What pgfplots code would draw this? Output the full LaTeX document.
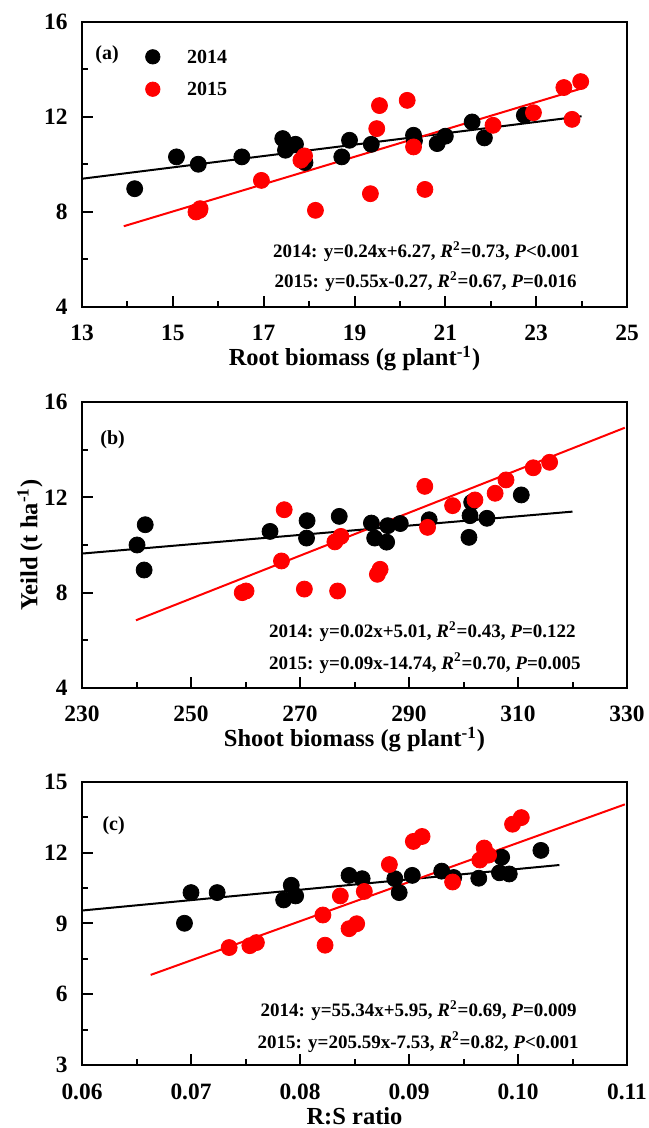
\documentclass[border=0pt]{standalone}
\usepackage{fontspec}
\setmainfont{Liberation Serif}
\usepackage{pgfplots}
\pgfplotsset{compat=1.18}
\definecolor{myred}{RGB}{255,0,0}
\newcommand{\tickfont}{\fontsize{11.7}{13}\selectfont\bfseries}
\newcommand{\labfont}{\fontsize{12.25}{14}\selectfont\bfseries}
\newcommand{\annfont}{\fontsize{10}{12}\selectfont\bfseries}
\newcommand{\eqfont}{\fontsize{9.5}{12}\selectfont\bfseries}
\tikzset{ann/.style={anchor=base east, inner sep=0pt, font=\eqfont}}
\pgfplotsset{
  panel/.style={
    scale only axis, width=272.5pt,
    axis line style={line width=1pt},
    tick align=inside, tick pos=left,
    major tick length=5.5pt, minor tick length=3pt,
    tick style={black, line width=1pt},
    minor tick num=1,
    clip=false,
    /pgf/number format/assume math mode=true,
    ticklabel style={font=\tickfont},
    xticklabel style={anchor=base, inner sep=0pt, yshift=-17pt},
    yticklabel style={anchor=east, inner sep=0pt, xshift=-7pt},
    every axis x label/.style={at={(axis description cs:0.5,0)}, anchor=base, yshift=-29.5pt, font=\labfont},
    every axis y label/.style={at={(axis description cs:-0.0954,0.5)}, rotate=90, anchor=center, font=\labfont},
  },
  pts/.style={only marks, mark=*, mark size=4pt, legend image code/.code={\draw[mark size=3.6pt,##1] plot coordinates {(0pt,0pt)};}},
}
\pgfplotstableread{
x y
14.16 8.98
15.08 10.32
15.56 10.01
16.52 10.32
17.42 11.09
17.48 10.60
17.70 10.85
17.91 10.08
18.72 10.32
18.89 11.02
19.37 10.85
20.30 11.23
20.32 11.00
20.82 10.88
21.00 11.19
21.59 11.79
21.86 11.12
22.74 12.07
}\rootA
\pgfplotstableread{
x y
15.51 8.00
15.59 8.07
15.60 8.14
16.95 9.33
17.82 10.18
17.90 10.36
18.14 8.07
19.35 8.77
19.49 11.51
19.55 12.48
20.16 12.70
20.30 10.74
20.55 8.95
22.05 11.65
22.94 12.18
23.61 13.24
23.79 11.90
23.98 13.49
}\rootB
\pgfplotstableread{
x y
240.1 10.00
241.6 10.85
241.4 8.95
264.5 10.57
271.3 11.02
271.2 10.29
277.2 11.20
283.1 10.92
283.7 10.29
285.9 10.12
286.1 10.81
288.4 10.90
293.7 11.06
301.2 11.23
301.0 10.32
301.5 11.79
304.3 11.12
310.6 12.10
}\shootA
\pgfplotstableread{
x y
259.4 8.00
260.1 8.07
266.6 9.33
267.1 11.48
270.8 8.15
276.4 10.13
277.5 10.36
276.9 8.07
284.2 8.77
284.7 8.98
292.9 12.46
293.4 10.74
298.0 11.65
302.1 11.89
305.8 12.17
307.8 12.73
312.8 13.24
315.8 13.47
}\shootB
\pgfplotstableread{
x y
0.0694 9.01
0.0700 10.31
0.0724 10.31
0.0785 10.00
0.0792 10.62
0.0796 10.17
0.0845 11.04
0.0857 10.90
0.0887 10.90
0.0891 10.31
0.0903 11.04
0.0930 11.22
0.0941 10.95
0.0964 10.92
0.0983 11.15
0.0985 11.81
0.0992 11.10
0.1021 12.10
}\rsA
\pgfplotstableread{
x y
0.0735 7.98
0.0754 8.06
0.0760 8.19
0.0821 9.36
0.0823 8.08
0.0837 10.17
0.0845 8.78
0.0852 8.99
0.0859 10.36
0.0882 11.50
0.0904 12.48
0.0912 12.69
0.0940 10.76
0.0965 11.69
0.0969 12.20
0.0973 11.90
0.0995 13.21
0.1003 13.49
}\rsB
\begin{document}
\begin{tikzpicture}
\path[use as bounding box] (0,0) rectangle (324pt,564pt);
% ---------- (a)
\begin{axis}[panel, at={(41pt,410.5pt)}, anchor=south west, height=142.5pt,
  xmin=13, xmax=25, ymin=4, ymax=16,
  xtick={13,15,17,19,21,23,25}, ytick={4,8,12,16},
  xlabel={Root biomass (g plant\textsuperscript{-1})},
  legend style={at={(axis description cs:0.1167,0.903)}, anchor=north west, draw=none, fill=none,
    inner sep=0pt, outer sep=0pt, row sep=9pt, column sep=13.5pt, font=\annfont,
    nodes={inner sep=0pt, text depth=0pt}},
  legend cell align=left]
\addplot[pts, black] table {\rootA};
\addlegendentry{2014}
\addplot[pts, myred] table {\rootB};
\addlegendentry{2015}
\addplot[black, line width=1pt, forget plot] coordinates {(13,9.40) (24,12.03)};
\addplot[myred, line width=1pt, forget plot] coordinates {(13.92,7.40) (24.0,13.2)};
\node[anchor=west, inner sep=0pt, font=\annfont] at (axis description cs:0.024,0.884) {(a)};
\node[ann] at (axis description cs:0.9138,0.172) {2014: y=0.24x+6.27, \textit{R}\textsuperscript{2}=0.73, \textit{P}<0.001};
\node[ann] at (axis description cs:0.9083,0.0667) {2015: y=0.55x-0.27, \textit{R}\textsuperscript{2}=0.67, \textit{P}=0.016};
\end{axis}
% ---------- (b)
\begin{axis}[panel, at={(41pt,220pt)}, anchor=south west, height=143pt,
  xmin=230, xmax=330, ymin=4, ymax=16,
  xtick={230,250,270,290,310,330}, ytick={4,8,12,16},
  xlabel={Shoot biomass (g plant\textsuperscript{-1})},
  ylabel={Yeild (t ha\textsuperscript{-1})}]
\addplot[pts, black] table {\shootA};
\addplot[pts, myred] table {\shootB};
\addplot[black, line width=1pt] coordinates {(230,9.64) (320,11.40)};
\addplot[myred, line width=1pt] coordinates {(239.9,6.84) (329.6,14.92)};
\node[anchor=west, inner sep=0pt, font=\annfont] at (axis description cs:0.033,0.867) {(b)};
\node[ann] at (axis description cs:0.9064,0.175) {2014: y=0.02x+5.01, \textit{R}\textsuperscript{2}=0.43, \textit{P}=0.122};
\node[ann] at (axis description cs:0.9156,0.066) {2015: y=0.09x-14.74, \textit{R}\textsuperscript{2}=0.70, \textit{P}=0.005};
\end{axis}
% ---------- (c)
\begin{axis}[panel, at={(41pt,31.5pt)}, anchor=south west, height=141.5pt,
  xmin=0.06, xmax=0.11, ymin=3, ymax=15,
  xtick={0.06,0.07,0.08,0.09,0.10,0.11}, ytick={3,6,9,12,15},
  xticklabel style={/pgf/number format/.cd, fixed, fixed zerofill, precision=2},
  scaled x ticks=false,
  xlabel={R:S ratio}]
\addplot[pts, black] table {\rsA};
\addplot[pts, myred] table {\rsB};
\addplot[black, line width=1pt] coordinates {(0.06,9.55) (0.1038,11.48)};
\addplot[myred, line width=1pt] coordinates {(0.0663,6.82) (0.1098,14.05)};
\node[anchor=west, inner sep=0pt, font=\annfont] at (axis description cs:0.037,0.845) {(c)};
\node[ann] at (axis description cs:0.9083,0.170) {2014: y=55.34x+5.95, \textit{R}\textsuperscript{2}=0.69, \textit{P}=0.009};
\node[ann] at (axis description cs:0.9119,0.060) {2015: y=205.59x-7.53, \textit{R}\textsuperscript{2}=0.82, \textit{P}<0.001};
\end{axis}
\end{tikzpicture}
\end{document}
